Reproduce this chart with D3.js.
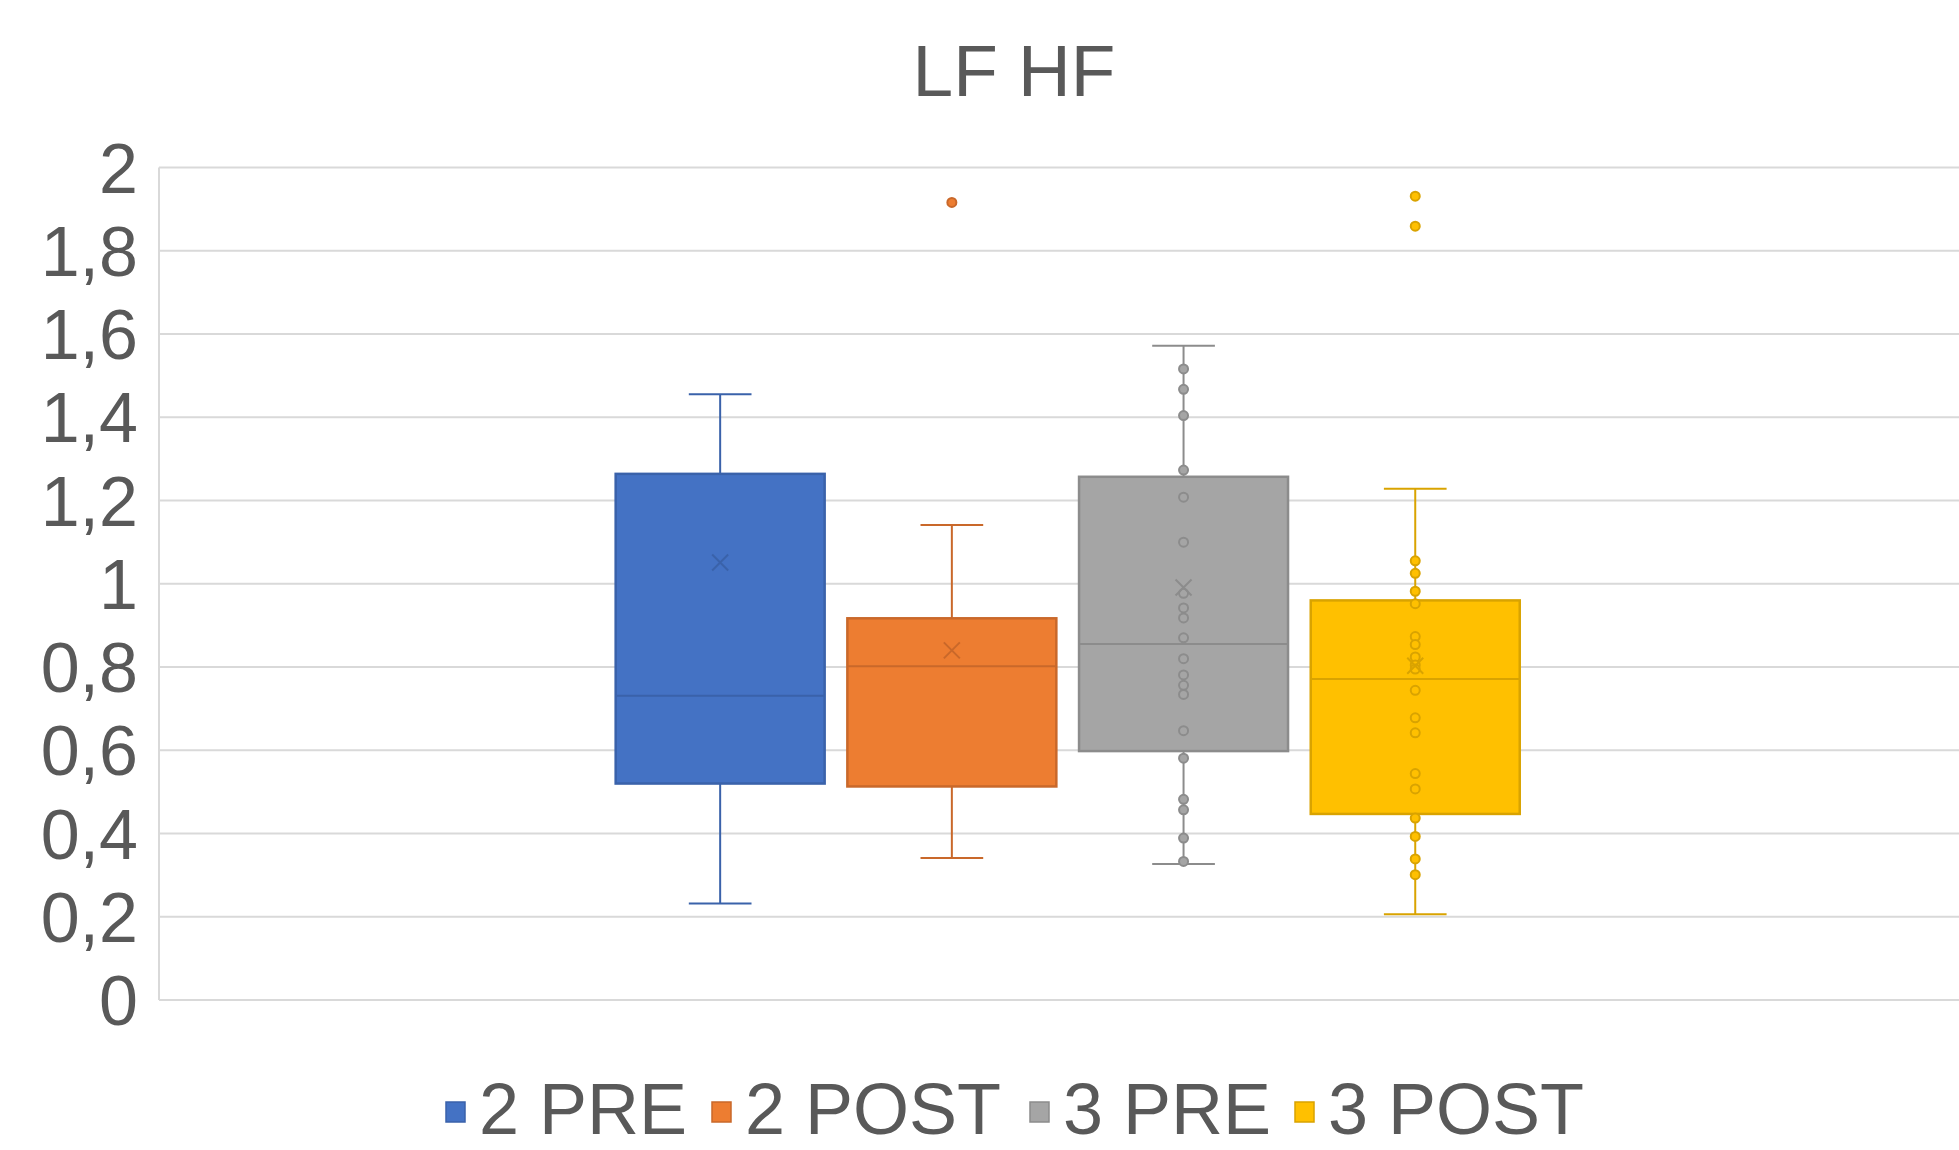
<!DOCTYPE html>
<html>
<head>
<meta charset="utf-8">
<script src="https://cdn.jsdelivr.net/npm/d3@7.9.0/dist/d3.min.js"></script>
<style>
  body { margin: 0; background: #fff; }
  text { font-family: "Liberation Sans", Arial, sans-serif; fill: #595959; }
</style>
</head>
<body>
<svg id="chart" width="1959" height="1150"></svg>
<script>
// box plot stats
const series = ['2 PRE', '2 POST', '3 PRE', '3 POST'];
const colors = ['#4472C4', '#ED7D31', '#A5A5A5', '#FFC000'];
const strokes = ['#3A62AA', '#C9682A', '#8C8C8C', '#D9A300'];
const whiskerLow = [0.232, 0.341, 0.327, 0.206];
const q1 = [0.520, 0.513, 0.598, 0.447];
const median = [0.731, 0.802, 0.855, 0.771];
const q3 = [1.264, 0.917, 1.257, 0.960];
const whiskerHigh = [1.455, 1.141, 1.572, 1.228];
const means = [1.051, 0.840, 0.991, 0.803];
const outliers = [[], [1.916], [], [1.931, 1.859]];
const innerPoints = [
  [],
  [],
  [1.516, 1.467, 1.404, 1.273, 1.208, 1.100, 0.977, 0.942, 0.918, 0.870, 0.820,
   0.781, 0.756, 0.734, 0.647, 0.581, 0.482, 0.457, 0.389, 0.333],
  [1.055, 1.025, 0.982, 0.952, 0.873, 0.854, 0.824, 0.805, 0.795, 0.744, 0.678,
   0.642, 0.544, 0.507, 0.437, 0.393, 0.339, 0.301]
];
const yTicks = [0, 0.2, 0.4, 0.6, 0.8, 1, 1.2, 1.4, 1.6, 1.8, 2];

const svg = d3.select('#chart');
const plotLeft = 159, plotRight = 1976.4, plotTop = 167.5, plotBottom = 1000;

const y = d3.scaleLinear().domain([0, 2]).range([plotBottom, plotTop]);
const x = d3.scaleBand().domain(series).range([plotLeft, plotRight])
  .paddingInner(0.098).paddingOuter(1.971);
const fmt = (d) => String(d).replace('.', ',');

// gridlines
svg.append('g').selectAll('line').data(yTicks).join('line')
  .attr('x1', plotLeft).attr('x2', plotRight)
  .attr('y1', (d) => y(d)).attr('y2', (d) => y(d))
  .attr('stroke', '#d9d9d9').attr('stroke-width', 2);
svg.append('line').attr('x1', plotLeft).attr('x2', plotLeft)
  .attr('y1', y(2)).attr('y2', y(0))
  .attr('stroke', '#d9d9d9').attr('stroke-width', 2);

// y labels
svg.append('g').selectAll('text').data(yTicks).join('text')
  .attr('x', 138).attr('y', (d) => y(d) + 25)
  .attr('text-anchor', 'end').attr('font-size', 70)
  .text(fmt);

// title
svg.append('text').attr('x', 1014).attr('y', 96)
  .attr('text-anchor', 'middle').attr('font-size', 73).text('LF HF');

// boxes
const bw = x.bandwidth();
const capW = bw * 0.3;
series.forEach((s, i) => {
  const g = svg.append('g');
  const cx = x(s) + bw / 2;
  // whiskers
  g.append('line').attr('x1', cx).attr('x2', cx)
    .attr('y1', y(whiskerHigh[i])).attr('y2', y(q3[i]))
    .attr('stroke', strokes[i]).attr('stroke-width', 2);
  g.append('line').attr('x1', cx).attr('x2', cx)
    .attr('y1', y(q1[i])).attr('y2', y(whiskerLow[i]))
    .attr('stroke', strokes[i]).attr('stroke-width', 2);
  [whiskerHigh[i], whiskerLow[i]].forEach((v) => {
    g.append('line').attr('x1', cx - capW / 2).attr('x2', cx + capW / 2)
      .attr('y1', y(v)).attr('y2', y(v))
      .attr('stroke', strokes[i]).attr('stroke-width', 2);
  });
  // box
  g.append('rect').attr('x', x(s)).attr('width', bw)
    .attr('y', y(q3[i])).attr('height', y(q1[i]) - y(q3[i]))
    .attr('fill', colors[i]).attr('stroke', strokes[i]).attr('stroke-width', 2.5);
  g.append('line').attr('x1', x(s)).attr('x2', x(s) + bw)
    .attr('y1', y(median[i])).attr('y2', y(median[i]))
    .attr('stroke', strokes[i]).attr('stroke-width', 2);
  // points
  innerPoints[i].concat(outliers[i]).forEach((v) => {
    g.append('circle').attr('cx', cx).attr('cy', y(v)).attr('r', 4.5)
      .attr('fill', colors[i]).attr('stroke', strokes[i]).attr('stroke-width', 2);
  });
  // mean marker
  const my = y(means[i]), m = 8;
  g.append('path')
    .attr('d', `M${cx - m},${my - m}L${cx + m},${my + m}M${cx - m},${my + m}L${cx + m},${my - m}`)
    .attr('stroke', strokes[i]).attr('stroke-width', 2).attr('fill', 'none');
});

// legend
const legendX = [446, 712, 1030, 1295];
const legend = svg.append('g');
series.forEach((s, i) => {
  legend.append('rect').attr('x', legendX[i]).attr('y', 1102)
    .attr('width', 19).attr('height', 20)
    .attr('fill', colors[i]).attr('stroke', strokes[i]).attr('stroke-width', 1.5);
  legend.append('text').attr('x', legendX[i] + 33).attr('y', 1134)
    .attr('font-size', 72).text(s);
});
</script>
</body>
</html>
